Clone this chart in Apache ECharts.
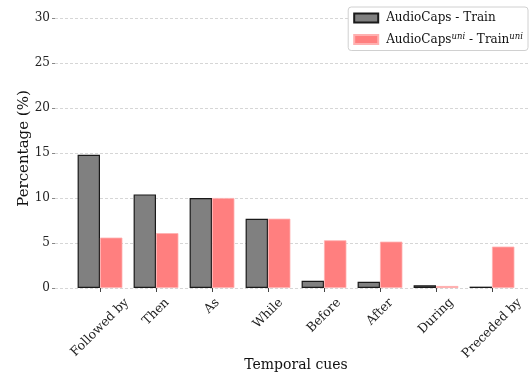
<!DOCTYPE html>
<html><head><meta charset="utf-8">
<script src="https://cdn.jsdelivr.net/npm/echarts@6/dist/echarts.min.js"></script>
<style>html,body{margin:0;padding:0;background:#fff}#c{width:530px;height:375px}</style>
</head><body><div id="c"></div>
<script>
const categories = ['Followed by','Then','As','While','Before','After','During','Preceded by'];
const trainValues = [14.8, 10.4, 10.0, 7.7, 0.8, 0.7, 0.3, 0.15];
const uniValues = [5.6, 6.1, 10.0, 7.7, 5.3, 5.15, 0.22, 4.6];
const yTicks = [0, 5, 10, 15, 20, 25, 30];

const F = 'DejaVu Serif';
const LABEL_SIZE = 12.5;
// matplotlib-style centred 45° labels: per-label padding so the rotated box's top sits below the axis
const cv = document.createElement('canvas').getContext('2d');
cv.font = LABEL_SIZE + 'px "' + F + '"';
const S = Math.SQRT1_2;
const rich = {};
categories.forEach(function (c, i) {
  const w = cv.measureText(c).width;
  const h = LABEL_SIZE * 1.05;
  const D = 8 + (w + h) * S / 2;
  const p = D / S;
  rich['c' + i] = {fontFamily: F, fontSize: LABEL_SIZE, color: '#222', padding: [p, p, 0, 0]};
});

const hiddenParts = {axisLine: {show: false}, axisTick: {show: false}, axisLabel: {show: false}, splitLine: {show: false}};

const chart = echarts.init(document.getElementById('c'));
chart.setOption({
  animation: false,
  textStyle: {fontFamily: F},
  grid: [
    {left: 55, right: 0, top: 18, bottom: 87, outerBoundsMode: 'none', containLabel: false},
    {left: 72, right: 10, top: 9, bottom: 87, outerBoundsMode: 'none', containLabel: false}
  ],
  legend: {
    orient: 'vertical', right: 2, top: 7, icon: 'rect', itemWidth: 24, itemHeight: 9, itemGap: 8,
    padding: [5, 5, 5, 5], borderColor: '#d0d0d0', borderWidth: 1, borderRadius: 3,
    backgroundColor: '#fff',
    textStyle: {fontFamily: F, fontSize: 12, color: '#111', padding: [0, 0, 0, 3],
      rich: {a: {fontFamily: F, fontSize: 12, color: '#111'},
             s: {fontFamily: F, fontSize: 8.5, fontStyle: 'italic', color: '#111', verticalAlign: 'top', padding: [0,0,6,0]}}},
    formatter: function (n) {
      if (n === 'uni') return '{a|AudioCaps}{s|uni}{a| - Train}{s|uni}';
      return n;
    },
    data: ['AudioCaps - Train', 'uni']
  },
  xAxis: [
    {type: 'value', gridIndex: 0, show: false, min: 0, max: 1},
    {type: 'category', gridIndex: 1, data: categories, position: 'bottom',
     axisLine: {show: false},
     axisTick: {show: true, alignWithLabel: true, length: 4, lineStyle: {color: '#444'}},
     axisLabel: {rotate: 45, align: 'center', verticalAlign: 'middle', margin: 0, rich: rich,
       formatter: function (v, i) { return '{c' + i + '|' + v + '}'; }}},
    Object.assign({type: 'value', gridIndex: 1, position: 'bottom', offset: 0, min: 0, max: 1,
     name: 'Temporal cues', nameLocation: 'middle', nameGap: 70,
     nameTextStyle: {fontFamily: F, fontSize: 14, color: '#111'}}, hiddenParts)
  ],
  yAxis: [
    {type: 'value', gridIndex: 0, min: 0, max: 30, interval: 5,
     axisLine: {show: false},
     axisTick: {show: true, length: 3, lineStyle: {color: '#888'}},
     axisLabel: {fontFamily: F, fontSize: 12, color: '#222', margin: 5,
       formatter: function (v) { return yTicks.indexOf(v) >= 0 ? String(v) : ''; }},
     splitLine: {show: true, lineStyle: {type: [3, 2], color: '#cccccc', width: 0.8}}},
    Object.assign({type: 'value', gridIndex: 1, min: 0, max: 31,
     name: 'Percentage (%)', nameLocation: 'middle', nameGap: 40,
     nameTextStyle: {fontFamily: F, fontSize: 15, color: '#111'}}, hiddenParts)
  ],
  series: [
    {name: 'AudioCaps - Train', type: 'bar', xAxisIndex: 1, yAxisIndex: 1, data: trainValues,
     barWidth: '40%', barGap: '0%',
     itemStyle: {color: '#808080', borderColor: '#1a1a1a', borderWidth: 1.2}},
    {name: 'uni', type: 'bar', xAxisIndex: 1, yAxisIndex: 1, data: uniValues,
     barWidth: '40%', barGap: '0%',
     itemStyle: {color: '#ff7f7f', borderColor: '#ffb0b0', borderWidth: 0.8}}
  ]
});
</script></body></html>
